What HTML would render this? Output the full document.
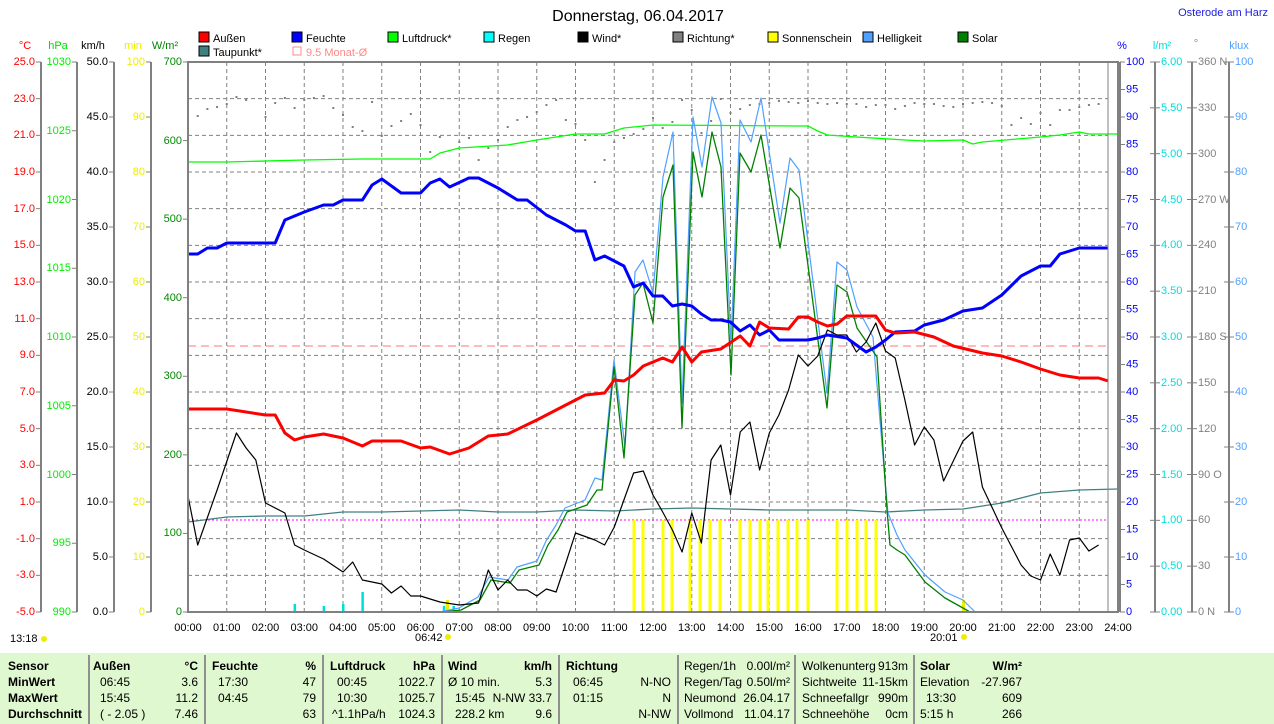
<!DOCTYPE html>
<html><head><meta charset="utf-8"><style>
html,body{margin:0;padding:0;background:#fff;width:1274px;height:724px;overflow:hidden}
svg{display:block;font-family:"Liberation Sans",sans-serif}
text{font-size:11px}
.tb text{font-size:12px}
</style></head><body>
<svg id="s" width="1274" height="724" xmlns="http://www.w3.org/2000/svg">
<rect width="1274" height="724" fill="#fff"/>
<text x="638" y="21" text-anchor="middle" style="font-size:16px" fill="#000">Donnerstag, 06.04.2017</text>
<text x="1268" y="16" text-anchor="end" fill="#2020e0">Osterode am Harz</text>
<g>
<rect x="199" y="32" width="10" height="10" fill="#f00" stroke="#000"/><text x="213" y="42">Außen</text>
<rect x="292" y="32" width="10" height="10" fill="#00f" stroke="#000"/><text x="306" y="42">Feuchte</text>
<rect x="388" y="32" width="10" height="10" fill="#0f0" stroke="#000"/><text x="402" y="42">Luftdruck*</text>
<rect x="484" y="32" width="10" height="10" fill="#0ff" stroke="#000"/><text x="498" y="42">Regen</text>
<rect x="578" y="32" width="10" height="10" fill="#000" stroke="#000"/><text x="592" y="42">Wind*</text>
<rect x="673" y="32" width="10" height="10" fill="#808080" stroke="#000"/><text x="687" y="42">Richtung*</text>
<rect x="768" y="32" width="10" height="10" fill="#ff0" stroke="#000"/><text x="782" y="42">Sonnenschein</text>
<rect x="863" y="32" width="10" height="10" fill="#50a0ff" stroke="#000"/><text x="877" y="42">Helligkeit</text>
<rect x="958" y="32" width="10" height="10" fill="#008000" stroke="#000"/><text x="972" y="42">Solar</text>
<rect x="199" y="46" width="10" height="10" fill="#408080" stroke="#000"/><text x="213" y="56">Taupunkt*</text>
<rect x="293" y="47" width="8" height="8" fill="none" stroke="#f88"/><text x="306" y="56" fill="#f88">9.5 Monat-Ø</text>
</g>
<text x="25" y="49" fill="#f00" text-anchor="middle">°C</text>
<text x="58" y="49" fill="#0d0" text-anchor="middle">hPa</text>
<text x="93" y="49" fill="#000" text-anchor="middle">km/h</text>
<text x="133" y="49" fill="#ee0" text-anchor="middle">min</text>
<text x="165" y="49" fill="#080" text-anchor="middle">W/m²</text>
<text x="1122" y="49" fill="#00f" text-anchor="middle">%</text>
<text x="1162" y="49" fill="#0dd" text-anchor="middle">l/m²</text>
<text x="1196" y="47" fill="#888" text-anchor="middle">°</text>
<text x="1239" y="49" fill="#50a0ff" text-anchor="middle">klux</text>
<g stroke="#808080" stroke-width="2">
<line x1="41" y1="62" x2="41" y2="612"/><line x1="77" y1="62" x2="77" y2="612"/>
<line x1="114" y1="62" x2="114" y2="612"/><line x1="151" y1="62" x2="151" y2="612"/>
<line x1="1120" y1="62" x2="1120" y2="612"/><line x1="1155" y1="62" x2="1155" y2="612"/>
<line x1="1192" y1="62" x2="1192" y2="612"/><line x1="1229" y1="62" x2="1229" y2="612"/>
</g>
<g id="ticks" stroke="#808080" stroke-width="1"></g>
<g fill="#f00" text-anchor="end" dominant-baseline="middle">
<text x="35" y="62">25.0</text><text x="35" y="99">23.0</text><text x="35" y="135">21.0</text><text x="35" y="172">19.0</text><text x="35" y="209">17.0</text><text x="35" y="245">15.0</text><text x="35" y="282">13.0</text><text x="35" y="319">11.0</text><text x="35" y="355">9.0</text><text x="35" y="392">7.0</text><text x="35" y="429">5.0</text><text x="35" y="465">3.0</text><text x="35" y="502">1.0</text><text x="35" y="539">-1.0</text><text x="35" y="575">-3.0</text><text x="35" y="612">-5.0</text>
</g>
<g fill="#0e0" text-anchor="end" dominant-baseline="middle">
<text x="71" y="62">1030</text><text x="71" y="131">1025</text><text x="71" y="200">1020</text><text x="71" y="268">1015</text><text x="71" y="337">1010</text><text x="71" y="406">1005</text><text x="71" y="475">1000</text><text x="71" y="543">995</text><text x="71" y="612">990</text>
</g>
<g fill="#000" text-anchor="end" dominant-baseline="middle">
<text x="108" y="62">50.0</text><text x="108" y="117">45.0</text><text x="108" y="172">40.0</text><text x="108" y="227">35.0</text><text x="108" y="282">30.0</text><text x="108" y="337">25.0</text><text x="108" y="392">20.0</text><text x="108" y="447">15.0</text><text x="108" y="502">10.0</text><text x="108" y="557">5.0</text><text x="108" y="612">0.0</text>
</g>
<g fill="#ee0" text-anchor="end" dominant-baseline="middle">
<text x="145" y="62">100</text><text x="145" y="117">90</text><text x="145" y="172">80</text><text x="145" y="227">70</text><text x="145" y="282">60</text><text x="145" y="337">50</text><text x="145" y="392">40</text><text x="145" y="447">30</text><text x="145" y="502">20</text><text x="145" y="557">10</text><text x="145" y="612">0</text>
</g>
<g fill="#080" text-anchor="end" dominant-baseline="middle">
<text x="182" y="62">700</text><text x="182" y="141">600</text><text x="182" y="219">500</text><text x="182" y="298">400</text><text x="182" y="376">300</text><text x="182" y="455">200</text><text x="182" y="533">100</text><text x="182" y="612">0</text>
</g>
<g fill="#00f" dominant-baseline="middle">
<text x="1126" y="62">100</text><text x="1126" y="89.5">95</text><text x="1126" y="117">90</text><text x="1126" y="144.5">85</text><text x="1126" y="172">80</text><text x="1126" y="199.5">75</text><text x="1126" y="227">70</text><text x="1126" y="254.5">65</text><text x="1126" y="282">60</text><text x="1126" y="309.5">55</text><text x="1126" y="337">50</text><text x="1126" y="364.5">45</text><text x="1126" y="392">40</text><text x="1126" y="419.5">35</text><text x="1126" y="447">30</text><text x="1126" y="474.5">25</text><text x="1126" y="502">20</text><text x="1126" y="529.5">15</text><text x="1126" y="557">10</text><text x="1126" y="584.5">5</text><text x="1126" y="612">0</text>
</g>
<g fill="#0dd" dominant-baseline="middle">
<text x="1161" y="62">6.00</text><text x="1161" y="108">5.50</text><text x="1161" y="154">5.00</text><text x="1161" y="200">4.50</text><text x="1161" y="245">4.00</text><text x="1161" y="291">3.50</text><text x="1161" y="337">3.00</text><text x="1161" y="383">2.50</text><text x="1161" y="429">2.00</text><text x="1161" y="475">1.50</text><text x="1161" y="520">1.00</text><text x="1161" y="566">0.50</text><text x="1161" y="612">0.00</text>
</g>
<g fill="#808080" dominant-baseline="middle">
<text x="1198" y="62">360 N</text><text x="1198" y="108">330</text><text x="1198" y="154">300</text><text x="1198" y="200">270 W</text><text x="1198" y="245">240</text><text x="1198" y="291">210</text><text x="1198" y="337">180 S</text><text x="1198" y="383">150</text><text x="1198" y="429">120</text><text x="1198" y="475">90  O</text><text x="1198" y="520">60</text><text x="1198" y="566">30</text><text x="1198" y="612">0  N</text>
</g>
<g fill="#50a0ff" dominant-baseline="middle">
<text x="1235" y="62">100</text><text x="1235" y="117">90</text><text x="1235" y="172">80</text><text x="1235" y="227">70</text><text x="1235" y="282">60</text><text x="1235" y="337">50</text><text x="1235" y="392">40</text><text x="1235" y="447">30</text><text x="1235" y="502">20</text><text x="1235" y="557">10</text><text x="1235" y="612">0</text>
</g>
<g id="grid" stroke="#808080" stroke-width="1" stroke-dasharray="4,3"></g>
<g text-anchor="middle" fill="#000">
<text x="188" y="631">00:00</text><text x="226.75" y="631">01:00</text><text x="265.5" y="631">02:00</text><text x="304.25" y="631">03:00</text><text x="343" y="631">04:00</text><text x="381.75" y="631">05:00</text><text x="420.5" y="631">06:00</text><text x="459.25" y="631">07:00</text><text x="498" y="631">08:00</text><text x="536.75" y="631">09:00</text><text x="575.5" y="631">10:00</text><text x="614.25" y="631">11:00</text><text x="653" y="631">12:00</text><text x="691.75" y="631">13:00</text><text x="730.5" y="631">14:00</text><text x="769.25" y="631">15:00</text><text x="808" y="631">16:00</text><text x="846.75" y="631">17:00</text><text x="885.5" y="631">18:00</text><text x="924.25" y="631">19:00</text><text x="963" y="631">20:00</text><text x="1001.75" y="631">21:00</text><text x="1040.5" y="631">22:00</text><text x="1079.25" y="631">23:00</text><text x="1118" y="631">24:00</text>
</g>
<text x="10" y="642">13:18</text><circle cx="44" cy="639" r="3" fill="#ee0"/>
<text x="415" y="641">06:42</text><circle cx="448" cy="637" r="3" fill="#ee0"/>
<text x="930" y="641">20:01</text><circle cx="964" cy="637" r="3" fill="#ee0"/>
<g id="series"></g>
<rect x="188" y="62" width="930" height="550" fill="none" stroke="#808080" stroke-width="2"/>
<line x1="1108" y1="62" x2="1108" y2="612" stroke="#808080"/>
<rect x="0" y="653" width="1274" height="71" fill="#e0f8d0"/>
<g stroke="#909090" stroke-width="2">
<line x1="89" y1="655" x2="89" y2="724"/><line x1="205" y1="655" x2="205" y2="724"/><line x1="323" y1="655" x2="323" y2="724"/><line x1="442" y1="655" x2="442" y2="724"/><line x1="559" y1="655" x2="559" y2="724"/><line x1="678" y1="655" x2="678" y2="724"/><line x1="795" y1="655" x2="795" y2="724"/><line x1="914" y1="655" x2="914" y2="724"/>
</g>
<g class="tb" fill="#000">
<g font-weight="bold"><text x="8" y="670">Sensor</text><text x="8" y="686">MinWert</text><text x="8" y="702">MaxWert</text><text x="8" y="718">Durchschnitt</text>
<text x="93" y="670">Außen</text><text x="198" y="670" text-anchor="end">°C</text>
<text x="212" y="670">Feuchte</text><text x="316" y="670" text-anchor="end">%</text>
<text x="330" y="670">Luftdruck</text><text x="435" y="670" text-anchor="end">hPa</text>
<text x="448" y="670">Wind</text><text x="552" y="670" text-anchor="end">km/h</text>
<text x="566" y="670">Richtung</text>
<text x="920" y="670">Solar</text><text x="1022" y="670" text-anchor="end">W/m²</text></g>
<text x="100" y="686">06:45</text><text x="198" y="686" text-anchor="end">3.6</text>
<text x="100" y="702">15:45</text><text x="198" y="702" text-anchor="end">11.2</text>
<text x="100" y="718">( - 2.05 )</text><text x="198" y="718" text-anchor="end">7.46</text>
<text x="218" y="686">17:30</text><text x="316" y="686" text-anchor="end">47</text>
<text x="218" y="702">04:45</text><text x="316" y="702" text-anchor="end">79</text>
<text x="316" y="718" text-anchor="end">63</text>
<text x="337" y="686">00:45</text><text x="435" y="686" text-anchor="end">1022.7</text>
<text x="337" y="702">10:30</text><text x="435" y="702" text-anchor="end">1025.7</text>
<text x="332" y="718">^1.1hPa/h</text><text x="435" y="718" text-anchor="end">1024.3</text>
<text x="448" y="686">Ø 10 min.</text><text x="552" y="686" text-anchor="end">5.3</text>
<text x="455" y="702">15:45</text><text x="552" y="702" text-anchor="end">N-NW 33.7</text>
<text x="455" y="718">228.2 km</text><text x="552" y="718" text-anchor="end">9.6</text>
<text x="573" y="686">06:45</text><text x="671" y="686" text-anchor="end">N-NO</text>
<text x="573" y="702">01:15</text><text x="671" y="702" text-anchor="end">N</text>
<text x="671" y="718" text-anchor="end">N-NW</text>
<text x="684" y="670">Regen/1h</text><text x="790" y="670" text-anchor="end">0.00l/m²</text>
<text x="684" y="686">Regen/Tag</text><text x="790" y="686" text-anchor="end">0.50l/m²</text>
<text x="684" y="702">Neumond</text><text x="790" y="702" text-anchor="end">26.04.17</text>
<text x="684" y="718">Vollmond</text><text x="790" y="718" text-anchor="end">11.04.17</text>
<text x="802" y="670">Wolkenunterg</text><text x="908" y="670" text-anchor="end">913m</text>
<text x="802" y="686">Sichtweite</text><text x="908" y="686" text-anchor="end">11-15km</text>
<text x="802" y="702">Schneefallgr</text><text x="908" y="702" text-anchor="end">990m</text>
<text x="802" y="718">Schneehöhe</text><text x="908" y="718" text-anchor="end">0cm</text>
<text x="920" y="686">Elevation</text><text x="1022" y="686" text-anchor="end">-27.967</text>
<text x="926" y="702">13:30</text><text x="1022" y="702" text-anchor="end">609</text>
<text x="920" y="718">5:15 h</text><text x="1022" y="718" text-anchor="end">266</text>
</g>
</svg>
<script>
(function(){
var NS="http://www.w3.org/2000/svg";
function el(p,t,a){var e=document.createElementNS(NS,t);for(var k in a)e.setAttribute(k,a[k]);p.appendChild(e);return e;}
var g=document.getElementById('grid'),tk=document.getElementById('ticks'),s=document.getElementById('series');
for(var i=1;i<24;i++){var x=188+i*38.75;el(g,'line',{x1:x,y1:62,x2:x,y2:612});}
for(var i=1;i<15;i++){var y=62+i*550/15;el(g,'line',{x1:188,y1:y,x2:1108,y2:y});}
function ticks(x0,x1,n){for(var i=0;i<=n;i++){var y=62+i*550/n;el(tk,'line',{x1:x0,y1:y,x2:x1,y2:y});}}
ticks(36,41,15);ticks(72,77,8);ticks(109,114,10);ticks(146,151,10);ticks(183,188,7);
ticks(1120,1125,20);ticks(1150,1160,12);ticks(1187,1197,12);ticks(1224,1234,10);
function X(h){return 188+h*38.75;}
function pl(d,c,w){var p=d.map(function(a){return X(a[0]).toFixed(1)+','+a[1];}).join(' ');el(s,'polyline',{points:p,fill:'none',stroke:c,'stroke-width':w,'stroke-linejoin':'round'});}
function plx(d,c,w){var p=d.map(function(a){return a[0]+','+a[1];}).join(' ');el(s,'polyline',{points:p,fill:'none',stroke:c,'stroke-width':w,'stroke-linejoin':'round'});}
el(s,'line',{x1:188,y1:346,x2:1108,y2:346,stroke:'#f77','stroke-dasharray':'8,5'});
el(s,'line',{x1:188,y1:520,x2:1108,y2:520,stroke:'#f0f','stroke-dasharray':'2,2'});
[[2.75,604],[3.5,606],[4,604],[4.5,592],[6.6,606],[6.85,606]].forEach(function(a){el(s,'rect',{x:X(a[0])-1,y:a[1],width:2.5,height:612-a[1],fill:'#0dd'});});
[634,643,663,672,690,700,710,720,740,750,760,768,778,788,797,808,837,847,857,866,876].forEach(function(x){el(s,'rect',{x:x-1.5,y:520,width:3,height:92,fill:'#ff0'});});
el(s,'rect',{x:962,y:600,width:3,height:12,fill:'#ee0'});el(s,'rect',{x:446,y:600,width:3,height:12,fill:'#ee0'});
var dots=[[0.25,116],[0.5,109],[0.75,107],[1,104],[1.25,97],[1.5,100],[2,117],[2.25,103],[2.5,98],[2.75,108],[3,100],[3.25,98],[3.5,96],[3.75,108],[4,115],[4.25,127],[4.5,131],[4.75,102],[5,136],[5.25,126],[5.5,121],[5.75,114],[6,125],[6.25,152],[6.5,137],[7,142],[7.25,138],[7.5,160],[7.75,148],[8,140],[8.25,127],[8.5,120],[8.75,117],[9,112],[9.25,105],[9.5,100],[9.75,120],[10,124],[10.25,140],[10.5,182],[10.75,160],[11,142],[11.25,138],[11.5,134],[11.75,129],[12,118],[12.25,128],[12.5,122],[12.75,100],[13,110],[13.25,133],[13.5,121],[13.75,99],[14,113],[14.25,109],[14.5,105],[14.75,104],[15,103],[15.25,101],[15.5,102],[15.75,103],[16,101],[16.25,103],[16.5,104],[16.75,103],[17,104],[17.25,104],[17.5,107],[17.75,105],[18,105],[18.25,109],[18.5,106],[18.75,103],[19,104],[19.25,104],[19.5,106],[19.75,107],[20,104],[20.25,103],[20.5,102],[20.75,103],[21,106],[21.25,125],[21.5,118],[21.75,124],[22,113],[22.25,125],[22.5,110],[22.75,110],[23,107],[23.25,105],[23.5,104]];
dots.forEach(function(a){el(s,'rect',{x:X(a[0])-1,y:a[1]-1,width:2,height:2,fill:'#808080'});});
pl([[0,162],[1,162],[3,160],[4.5,159],[6.25,159],[6.5,153],[7,148],[8.25,145],[9,140],[9.5,137],[10,134],[10.75,134],[11.25,128],[12,125],[15.75,126],[16,126],[16.25,131],[16.5,135],[17.25,137],[18.5,140],[19,141],[20,140],[20.25,144],[20.5,142],[22,137],[22.5,135],[23,132],[23.25,134],[24,134]],'#0f0',1.3);
pl([[0,522],[1,517],[2,516],[3,516],[4,512],[5,512],[6,511],[7,510],[8,512],[9,512],[10,510],[11,511],[12,509],[13,508],[15,510],[17,510],[18,512],[19,510],[20,509],[21,503],[22,493],[23,490],[24,489]],'#408080',1.3);
// helligkeit (pixel coords)
plx([[188,612],[440,612],[459,608],[478,597],[489,577],[508,580],[517,567],[537,561],[546,541],[556,525],[565,508],[585,500],[595,478],[602,480],[614,360],[625,447],[635,272],[643,260],[653,293],[663,177],[673,132],[682,403],[693,117],[702,167],[712,97],[721,123],[731,343],[740,120],[751,142],[761,98],[780,223],[790,158],[799,170],[827,393],[837,262],[847,270],[857,307],[873,337],[885,480],[888,513],[897,535],[905,550],[925,575],[945,592],[963,600],[975,612],[1108,612]],'#50a0ff',1.2);
// solar
plx([[188,612],[442,612],[461,610],[480,600],[491,580],[510,583],[519,570],[539,565],[548,545],[558,530],[567,512],[587,505],[597,490],[602,490],[614,367],[624,458],[635,295],[643,283],[653,323],[663,197],[673,165],[682,428],[693,152],[702,197],[712,132],[721,167],[731,375],[740,153],[751,172],[761,135],[780,248],[790,188],[799,198],[827,408],[837,285],[847,292],[857,328],[877,357],[887,510],[890,545],[897,550],[905,555],[925,582],[945,598],[963,608],[970,612],[1108,612]],'#008000',1.3);
pl([[0,496],[0.25,545],[0.75,490],[1.25,433],[1.5,448],[1.75,460],[2,503],[2.5,513],[2.75,545],[3,550],[3.5,559],[4,572],[4.25,562],[4.5,580],[5,584],[5.25,593],[5.5,586],[5.75,596],[6,596],[6.5,602],[7,605],[7.5,603],[7.75,570],[8,590],[8.25,580],[8.5,590],[8.75,590],[9,596],[9.25,589],[9.5,592],[9.75,563],[10,533],[10.5,540],[10.75,545],[11,527],[11.25,500],[11.5,473],[11.75,471],[12,495],[12.25,512],[12.5,530],[12.75,552],[13,513],[13.25,543],[13.5,460],[13.75,445],[14,495],[14.25,432],[14.5,422],[14.75,470],[15,433],[15.25,415],[15.5,390],[15.75,355],[16,366],[16.25,356],[16.5,330],[16.75,335],[17,335],[17.25,352],[17.5,342],[17.75,323],[18,351],[18.25,358],[18.5,400],[18.75,445],[19,427],[19.25,440],[19.5,481],[19.75,461],[20,441],[20.25,432],[20.5,487],[21,528],[21.5,565],[21.75,576],[22,580],[22.25,554],[22.5,575],[22.75,540],[23,538],[23.25,551],[23.5,545]],'#000',1.2);
pl([[0,254],[0.25,254],[0.5,248],[0.75,248],[1,243],[2.25,243],[2.5,220],[3,212],[3.5,205],[3.75,205],[4,200],[4.5,200],[4.75,185],[5,179],[5.5,193],[6,193],[6.25,183],[6.5,179],[6.75,187],[7.25,178],[7.5,178],[8,188],[8.5,200],[8.75,200],[9.25,215],[9.75,225],[10,231],[10.25,231],[10.5,260],[10.75,256],[11.25,266],[11.5,287],[11.75,283],[12,296],[12.25,296],[12.5,306],[12.75,304],[13,306],[13.25,314],[13.5,320],[13.75,320],[14,322],[14.25,331],[14.5,325],[14.75,335],[15,330],[15.25,340],[15.75,340],[16,340],[16.25,338],[16.5,335],[17,338],[17.25,345],[17.5,352],[17.75,347],[18,340],[18.25,332],[18.75,331],[19,325],[19.5,320],[20,311],[20.5,308],[21,295],[21.5,276],[22,266],[22.25,266],[22.5,254],[23,248],[23.75,248]],'#00f',3);
pl([[0,409],[1,409],[2,415],[2.25,415],[2.5,433],[2.75,440],[3,437],[3.5,434],[4,438],[4.5,446],[4.75,441],[5.5,441],[6,448],[6.25,447],[6.75,454],[7.25,448],[7.75,436],[8.25,434],[9,420],[9.75,405],[10.25,395],[10.75,393],[11,380],[11.25,381],[11.5,375],[11.75,366],[12.25,358],[12.5,362],[12.75,347],[13,362],[13.25,352],[13.75,349],[14.25,336],[14.5,346],[14.75,322],[15,328],[15.5,329],[15.75,317],[16,317],[16.25,322],[16.5,326],[16.75,324],[17,316],[17.5,316],[17.75,316],[18,330],[18.25,333],[18.75,332],[19.25,337],[19.75,346],[20.5,353],[21,356],[21.5,362],[22,369],[22.5,375],[23,378],[23.5,378],[23.75,381]],'#f00',3);
})();
</script>
</body></html>
